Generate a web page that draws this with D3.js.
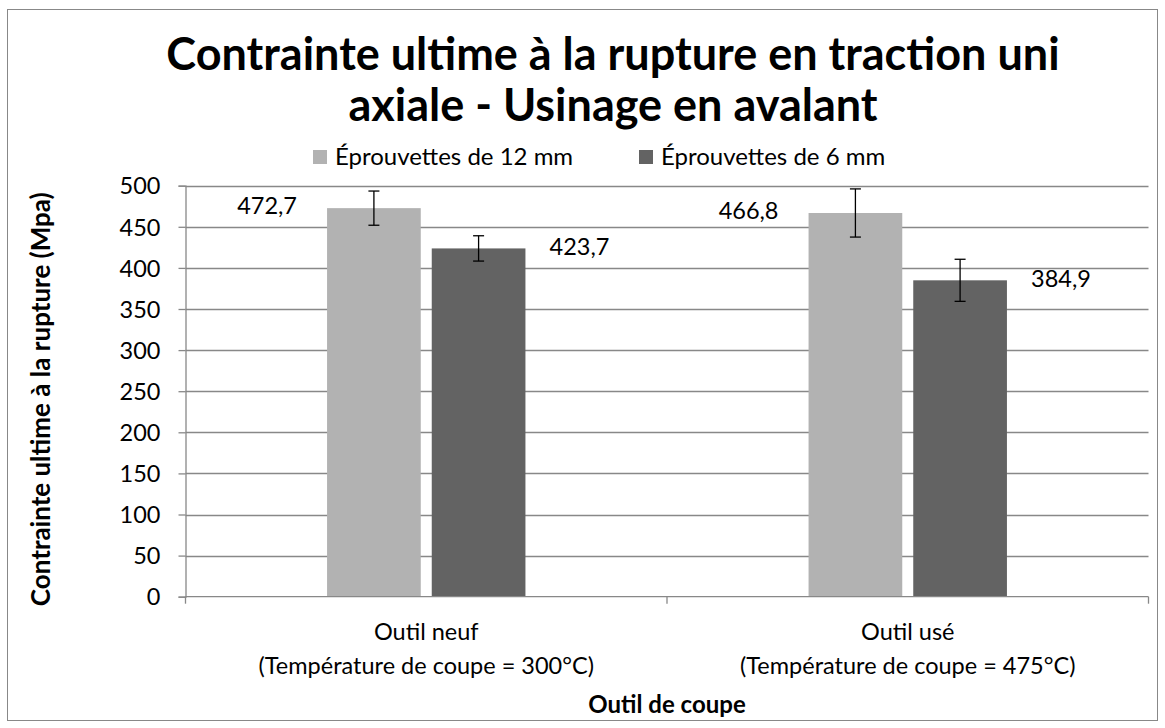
<!DOCTYPE html>
<html>
<head>
<meta charset="utf-8">
<script src="https://cdn.jsdelivr.net/npm/d3@7"></script>
<style>
  html, body { margin: 0; padding: 0; background: #fff; }
  svg { display: block; }
  text { font-family: Lato, "Open Sans", sans-serif; fill: #000; }
</style>
</head>
<body>
<svg id="chart" width="1165" height="728"></svg>
<script>
const categories = ["Outil neuf", "Outil usé"];
const categorySubLabels = ["(Température de coupe = 300°C)", "(Température de coupe = 475°C)"];
const seriesNames = ["Éprouvettes de 12 mm", "Éprouvettes de 6 mm"];
const seriesColors = ["#b2b2b2", "#636363"];
const values12mm = [472.7, 466.8];
const values6mm = [423.7, 384.9];
const errors12mm = [20.8, 29.3];
const errors6mm = [15.4, 25.6];
const valueLabels12mm = ["472,7", "466,8"];
const valueLabels6mm = ["423,7", "384,9"];
const yTicks = [0, 50, 100, 150, 200, 250, 300, 350, 400, 450, 500];
const titleLines = ["Contrainte ultime à la rupture en traction uni", "axiale - Usinage en avalant"];
const yAxisTitle = "Contrainte ultime à la rupture (Mpa)";
const xAxisTitle = "Outil de coupe";

const W = 1165, H = 728;
const margin = { left: 185.5, right: W - 1148.5, top: 185.7, bottom: H - 596.7 };
const svg = d3.select("#chart");
const gridColor = "#888888";
const fs = "23.5px";

// outer border
svg.append("rect").attr("x", 7.5).attr("y", 9.5).attr("width", 1150).attr("height", 711)
  .attr("fill", "#fff").attr("stroke", gridColor).attr("stroke-width", 1);

const x0 = d3.scaleBand().domain(categories).range([margin.left, W - margin.right]).paddingInner(0).paddingOuter(0);
const bw = x0.bandwidth();
const x1 = d3.scaleBand().domain(seriesNames).range([0.294 * bw, 0.706 * bw]).paddingInner(0.105).paddingOuter(0);
const y = d3.scaleLinear().domain([0, 500]).range([H - margin.bottom, margin.top]);

// gridlines
svg.append("g").selectAll("line").data(yTicks.filter(d => d > 0)).join("line")
  .attr("x1", margin.left).attr("x2", W - margin.right)
  .attr("y1", d => Math.round(y(d)) + 0.5).attr("y2", d => Math.round(y(d)) + 0.5)
  .attr("stroke", gridColor).attr("stroke-width", 1.3);

// y axis
const yAxis = d3.axisLeft(y).tickValues(yTicks).tickSize(7).tickPadding(18).tickFormat(d3.format("d"));
const gy = svg.append("g").attr("transform", `translate(${margin.left},0)`).call(yAxis);
gy.select(".domain").attr("stroke", gridColor).attr("stroke-width", 1.3);
gy.selectAll(".tick line").attr("stroke", gridColor).attr("stroke-width", 1.3);
gy.selectAll(".tick text").style("font-size", fs).style("font-family", "Lato, sans-serif").attr("fill", "#000").attr("dy", "0.35em");

// bars
const data = categories.map((c, i) => ({
  cat: c,
  items: [
    { s: seriesNames[0], v: values12mm[i], e: errors12mm[i], lab: valueLabels12mm[i], side: -1, color: seriesColors[0] },
    { s: seriesNames[1], v: values6mm[i], e: errors6mm[i], lab: valueLabels6mm[i], side: 1, color: seriesColors[1] }
  ]
}));

const groups = svg.append("g").selectAll("g").data(data).join("g")
  .attr("transform", d => `translate(${x0(d.cat)},0)`);

groups.selectAll("rect").data(d => d.items).join("rect")
  .attr("x", d => x1(d.s)).attr("width", x1.bandwidth())
  .attr("y", d => y(d.v)).attr("height", d => y(0) - y(d.v))
  .attr("fill", d => d.color);

// error bars
const eb = groups.selectAll("g.err").data(d => d.items).join("g").attr("class", "err");
const cx = d => x1(d.s) + x1.bandwidth() / 2;
eb.append("line").attr("x1", cx).attr("x2", cx).attr("y1", d => y(d.v + d.e)).attr("y2", d => y(d.v - d.e))
  .attr("stroke", "#000").attr("stroke-width", 1.3);
eb.append("line").attr("x1", d => cx(d) - 5.5).attr("x2", d => cx(d) + 5.5).attr("y1", d => y(d.v + d.e)).attr("y2", d => y(d.v + d.e))
  .attr("stroke", "#000").attr("stroke-width", 1.3);
eb.append("line").attr("x1", d => cx(d) - 5.5).attr("x2", d => cx(d) + 5.5).attr("y1", d => y(d.v - d.e)).attr("y2", d => y(d.v - d.e))
  .attr("stroke", "#000").attr("stroke-width", 1.3);

// value labels
groups.selectAll("text.val").data(d => d.items).join("text").attr("class", "val")
  .attr("x", d => d.side < 0 ? x1(d.s) - 60 : x1(d.s) + x1.bandwidth() + 54)
  .attr("y", d => y(d.v) - 2)
  .attr("dy", "0.35em")
  .attr("text-anchor", "middle")
  .style("font-size", fs)
  .text(d => d.lab);

// x axis
svg.append("line").attr("x1", margin.left).attr("x2", W - margin.right)
  .attr("y1", y(0)).attr("y2", y(0)).attr("stroke", gridColor).attr("stroke-width", 1.3);
const xTickPos = [margin.left, ...categories.map(c => x0(c) + bw)];
svg.append("g").selectAll("line").data(xTickPos).join("line")
  .attr("x1", d => d).attr("x2", d => d).attr("y1", y(0)).attr("y2", y(0) + 7)
  .attr("stroke", gridColor).attr("stroke-width", 1.3);

categories.forEach((c, i) => {
  const cxp = x0(c) + bw / 2;
  svg.append("text").attr("x", cxp).attr("y", 640).attr("text-anchor", "middle").style("font-size", fs).text(c);
  svg.append("text").attr("x", cxp).attr("y", 674).attr("text-anchor", "middle").style("font-size", fs).text(categorySubLabels[i]);
});

// axis titles
svg.append("text").attr("x", (margin.left + W - margin.right) / 2).attr("y", 713)
  .attr("text-anchor", "middle").style("font-size", "24px").style("font-weight", "bold").text(xAxisTitle);
svg.append("text").attr("transform", `translate(41,${(y(0) + y(500)) / 2 + 8}) rotate(-90)`)
  .attr("dy", "0.35em")
  .attr("text-anchor", "middle").style("font-size", "26px").style("font-weight", "bold").text(yAxisTitle);

// title
titleLines.forEach((t, i) => {
  svg.append("text").attr("x", 613).attr("y", 70 + i * 51).attr("text-anchor", "middle")
    .style("font-size", "45px").style("font-weight", "bold").text(t);
});

// legend
const legendItems = [{ x: 313 }, { x: 639 }];
seriesNames.forEach((s, i) => {
  const lx = legendItems[i].x;
  svg.append("rect").attr("x", lx).attr("y", 150).attr("width", 14).attr("height", 14).attr("fill", seriesColors[i]);
  svg.append("text").attr("x", lx + 22).attr("y", 157).attr("dy", "0.35em").style("font-size", "24px").text(s);
});
</script>
</body>
</html>
